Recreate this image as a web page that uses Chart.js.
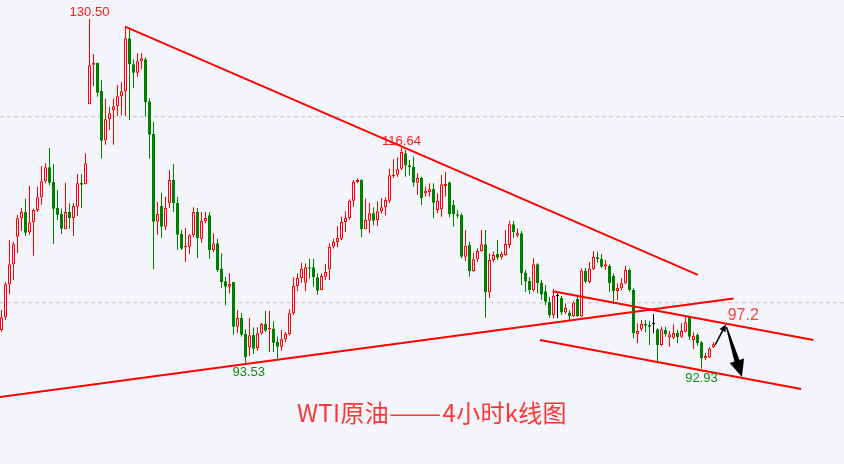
<!DOCTYPE html>
<html>
<head>
<meta charset="utf-8">
<script src="https://cdn.jsdelivr.net/npm/chart.js@4.4.1/dist/chart.umd.min.js"></script>
<style>
  html, body { margin: 0; padding: 0; background: #f4f5fa; }
  #wrap { position: relative; width: 844px; height: 464px; }
  #title { position: absolute; left: 297px; top: 396px; font: 24px "Noto Sans CJK SC", sans-serif; color: #ff3636; white-space: nowrap; line-height: 32px; letter-spacing: 0.3px; }
  #title .dash { display: inline-block; transform: scaleX(1.3); transform-origin: left center; margin-right: 13px; }
</style>
</head>
<body>
<div id="wrap">
  <canvas id="kChart" width="844" height="464"></canvas>
  <div id="title">WTI原油<span class="dash">——</span>4小时k线图</div>
</div>
<script>
// 4小时K线 (开/高/低/收)
const opens = [
  97.07, 98.44, 101.99, 104.14, 107.10, 109.08, 109.76, 107.57, 108.65, 109.97,
  111.34, 113.06, 114.56, 112.98, 110.19, 109.54, 107.90, 109.76, 109.11, 110.33,
  112.91, 112.73, 121.33, 125.59, 125.80, 122.79, 117.46, 119.72, 120.69, 121.12,
  122.19, 122.73, 128.42, 125.63, 124.73, 125.95, 126.17, 121.65, 118.14, 108.72,
  110.40, 108.18, 110.69, 113.20, 110.76, 107.39, 105.96, 106.03, 107.25, 109.76,
  106.89, 108.76, 109.40, 105.67, 106.39, 103.66, 102.31, 101.73, 102.23, 97.43,
  98.36, 96.65, 95.22, 96.57, 95.14, 96.72, 97.72, 97.15, 97.22, 95.79,
  95.28, 96.07, 96.65, 98.87, 101.80, 102.66, 102.16, 103.81, 103.81, 102.74,
  101.37, 102.80, 103.60, 106.03, 106.53, 106.89, 108.68, 109.11, 110.97, 112.98,
  113.20, 107.90, 108.82, 109.62, 108.90, 109.83, 110.26, 110.97, 113.63, 113.77,
  114.41, 116.07, 114.78, 114.63, 112.91, 113.44, 111.77, 111.91, 112.26, 109.97,
  110.05, 112.55, 112.95, 110.51, 109.51, 109.43, 104.95, 106.21, 103.42, 104.67,
  105.57, 106.29, 101.13, 104.60, 105.24, 104.89, 105.13, 106.21, 108.43, 107.21,
  107.47, 103.25, 102.34, 101.37, 104.14, 102.18, 101.23, 100.12, 98.69, 100.73,
  100.51, 98.96, 98.96, 98.58, 100.41, 98.53, 103.45, 102.23, 103.60, 104.89,
  104.71, 103.90, 103.95, 102.88, 101.27, 101.56, 102.09, 103.52, 101.37, 96.61,
  97.15, 97.72, 97.61, 97.72, 97.15, 95.46, 97.07, 96.29, 96.25, 96.75,
  96.36, 96.89, 98.50, 96.00, 96.54, 95.75, 94.03, 94.12, 95.22
];
const highs = [
  99.22, 102.24, 106.75, 106.53, 109.43, 110.19, 111.19, 112.55, 110.11, 112.48,
  114.70, 114.99, 116.63, 114.91, 112.12, 110.11, 112.91, 110.69, 110.69, 113.84,
  113.84, 116.07, 130.50, 126.74, 125.80, 123.94, 121.93, 121.07, 121.93, 123.41,
  123.73, 129.75, 129.39, 126.17, 126.81, 126.84, 126.38, 121.98, 119.46, 110.83,
  111.83, 111.40, 114.27, 114.91, 111.40, 107.82, 108.04, 107.39, 110.26, 110.19,
  109.76, 109.76, 109.76, 107.47, 106.89, 105.32, 102.80, 103.17, 102.23, 99.22,
  98.87, 97.15, 98.36, 97.36, 97.36, 97.86, 99.15, 99.15, 98.01, 96.36,
  97.07, 96.86, 99.30, 102.74, 103.17, 104.31, 104.24, 104.74, 104.74, 103.17,
  103.17, 104.17, 106.39, 106.89, 108.25, 109.25, 109.83, 111.12, 113.20, 113.34,
  113.27, 111.19, 110.76, 110.26, 110.91, 111.26, 111.34, 114.41, 115.42, 115.63,
  116.64, 116.42, 115.35, 115.70, 113.91, 113.55, 112.48, 112.84, 112.84, 111.77,
  113.73, 114.06, 113.01, 111.05, 109.97, 109.62, 107.82, 106.56, 105.38, 105.86,
  107.82, 107.82, 105.32, 105.49, 106.75, 105.49, 107.82, 108.82, 108.79, 107.99,
  107.71, 103.52, 102.77, 104.78, 104.24, 102.45, 101.91, 100.62, 101.48, 101.02,
  100.73, 99.95, 99.22, 100.19, 100.84, 103.71, 103.74, 104.38, 105.56, 105.49,
  105.24, 104.60, 104.14, 103.17, 102.09, 102.63, 103.99, 103.71, 101.56, 97.80,
  98.15, 98.15, 98.04, 98.79, 97.26, 97.43, 97.43, 96.97, 97.69, 97.07,
  97.80, 98.69, 98.61, 96.83, 96.72, 95.89, 94.60, 95.25, 95.79
];
const lows = [
  96.89, 98.15, 100.91, 102.45, 105.35, 107.71, 107.18, 107.32, 105.06, 109.76,
  110.54, 112.84, 112.63, 106.32, 108.90, 107.39, 107.90, 107.96, 107.18, 109.33,
  110.19, 112.73, 121.33, 123.30, 122.15, 115.48, 116.99, 118.57, 116.99, 120.07,
  120.15, 120.07, 119.64, 123.05, 124.30, 125.09, 120.00, 115.48, 103.60, 107.32,
  106.96, 107.82, 110.19, 109.76, 105.67, 105.67, 104.38, 105.24, 107.04, 104.81,
  106.46, 108.54, 104.74, 105.46, 103.31, 101.59, 99.73, 101.02, 96.57, 96.72,
  96.36, 93.53, 94.28, 94.50, 94.85, 96.57, 96.86, 94.71, 94.71, 93.99,
  94.85, 95.79, 96.51, 98.72, 101.23, 102.16, 101.23, 102.59, 101.73, 100.87,
  101.37, 102.45, 102.45, 105.81, 105.96, 106.75, 107.61, 108.90, 110.33, 112.84,
  107.04, 107.90, 107.47, 108.33, 108.25, 109.62, 109.40, 110.69, 113.41, 113.55,
  114.27, 113.55, 113.70, 112.48, 111.62, 110.51, 111.40, 111.40, 109.08, 109.62,
  109.25, 111.40, 109.19, 108.18, 109.08, 104.78, 104.49, 102.80, 103.34, 104.42,
  105.49, 98.40, 100.51, 104.38, 104.60, 104.67, 105.06, 105.86, 106.96, 107.02,
  101.91, 101.16, 100.94, 101.19, 101.02, 100.30, 99.76, 98.36, 98.31, 98.33,
  98.69, 98.80, 98.15, 98.47, 98.47, 98.47, 102.09, 102.09, 103.52, 104.28,
  103.77, 103.52, 101.16, 99.87, 100.30, 101.37, 101.99, 101.19, 96.18, 95.65,
  96.97, 96.83, 95.46, 96.72, 93.67, 95.39, 96.36, 95.28, 96.11, 95.65,
  96.25, 96.83, 96.00, 95.03, 95.39, 92.93, 93.85, 94.07, 95.14
];
const closes = [
  98.44, 101.99, 104.14, 106.29, 109.08, 109.76, 107.53, 108.65, 109.97, 111.34,
  113.06, 114.56, 112.91, 110.11, 109.47, 107.96, 109.76, 109.11, 110.40, 112.84,
  112.69, 114.99, 125.52, 125.80, 122.58, 117.42, 119.72, 120.36, 121.12, 122.19,
  122.73, 128.42, 125.63, 124.73, 125.95, 126.27, 121.55, 118.06, 108.72, 109.54,
  108.18, 110.19, 113.20, 110.69, 107.32, 105.81, 106.10, 107.25, 109.76, 106.96,
  108.82, 109.11, 105.67, 106.39, 103.52, 102.23, 101.73, 102.02, 97.43, 98.36,
  96.57, 94.14, 96.50, 95.07, 96.72, 97.72, 97.00, 97.29, 95.71, 95.28,
  96.07, 96.65, 98.87, 101.80, 102.66, 103.66, 103.81, 103.66, 102.74, 101.30,
  102.88, 103.31, 106.03, 106.53, 106.96, 108.68, 109.11, 110.97, 112.98, 113.20,
  107.90, 108.90, 109.62, 108.82, 109.83, 110.26, 111.05, 113.70, 113.77, 114.35,
  116.21, 114.78, 114.56, 112.91, 113.41, 111.23, 112.05, 112.20, 110.76, 110.97,
  112.73, 112.77, 109.51, 109.51, 109.36, 104.95, 106.13, 103.42, 104.67, 105.57,
  106.29, 101.13, 104.60, 105.13, 104.85, 105.24, 106.32, 108.43, 107.61, 107.47,
  103.17, 102.29, 101.37, 104.14, 102.09, 100.89, 100.12, 98.65, 100.73, 100.73,
  98.96, 99.44, 98.58, 100.03, 98.58, 103.47, 102.27, 103.68, 104.92, 104.67,
  103.88, 104.14, 102.13, 101.27, 101.59, 102.09, 103.52, 101.37, 96.72, 96.97,
  97.72, 97.54, 97.43, 97.72, 95.46, 97.15, 96.61, 96.61, 96.75, 96.32,
  96.97, 97.90, 96.36, 96.46, 95.65, 94.03, 94.28, 95.09, 95.54
];

// 虚线价位
const gridLevels = [100, 120];

// 趋势线 (K线序号, 价格)
const trendStartX = [31.9, 0.6, 138.8, 135.6];
const trendStartY = [129.67, 89.87, 101.23, 96.00];
const trendEndX = [175.1, 184.0, 204.0, 200.9];
const trendEndY = [102.99, 100.46, 96.00, 90.73];

// 高低点标注
const markText = ['130.50', '116.64', '93.53', '92.93'];
const markX = [23, 101, 62.8, 176];
const markY = [130.50, 116.64, 93.53, 92.93];
const markSide = ['top', 'top', 'bottom', 'bottom'];

// 目标位
const targetText = '97.2';
const targetX = 182.55;
const targetY = 98.15;

// 箭头 (起点 -> 终点)
const arrowFromX = [179.4, 182.25];
const arrowFromY = [95.46, 97.40];
const arrowToX = [182.1, 186.1];
const arrowToY = [97.67, 92.02];

const BG = '#f4f5fa';
const UP = '#ff0000';
const DOWN = '#008000';

const xMin = 0.625, xMax = 211.625;

function candleColor(k) {
  if (closes[k] > opens[k]) return UP;
  if (closes[k] < opens[k]) return DOWN;
  return '#000000';
}
const lineColors = closes.map((c, k) => candleColor(k));
const bodyFill = closes.map((c, k) => closes[k] > opens[k] ? BG : candleColor(k));

const datasets = [];

gridLevels.forEach(v => {
  datasets.push({
    type: 'line',
    data: [{ x: xMin, y: v }, { x: xMax, y: v }],
    borderColor: '#c4c4c8',
    borderWidth: 1,
    borderDash: [4, 3],
    pointRadius: 0,
    order: 5
  });
});

datasets.push({
  type: 'bar',
  data: highs.map((h, k) => ({ x: k + 1, y: [lows[k], h] })),
  backgroundColor: lineColors,
  borderWidth: 0,
  barThickness: 1,
  grouped: false,
  minBarLength: 1,
  inflateAmount: 0,
  order: 3
});

datasets.push({
  type: 'bar',
  data: closes.map((c, k) => ({ x: k + 1, y: [opens[k], c] })),
  backgroundColor: bodyFill,
  borderColor: lineColors,
  borderWidth: 1,
  borderSkipped: false,
  barThickness: 3,
  grouped: false,
  minBarLength: 1,
  inflateAmount: 0,
  order: 2
});

trendStartX.forEach((sx, k) => {
  datasets.push({
    type: 'line',
    data: [{ x: sx, y: trendStartY[k] }, { x: trendEndX[k], y: trendEndY[k] }],
    borderColor: '#ff0000',
    borderWidth: 2,
    pointRadius: 0,
    order: 1
  });
});

function drawArrow(ctx, x0, y0, x1, y1, w0, w1, head, hw) {
  const dx = x1 - x0, dy = y1 - y0, len = Math.hypot(dx, dy);
  const ux = dx / len, uy = dy / len, nx = -uy, ny = ux;
  const bx = x1 - ux * head, by = y1 - uy * head;
  ctx.beginPath();
  ctx.moveTo(x0 + nx * w0, y0 + ny * w0);
  ctx.lineTo(bx + nx * w1, by + ny * w1);
  ctx.lineTo(bx + nx * hw, by + ny * hw);
  ctx.lineTo(x1, y1);
  ctx.lineTo(bx - nx * hw, by - ny * hw);
  ctx.lineTo(bx - nx * w1, by - ny * w1);
  ctx.lineTo(x0 - nx * w0, y0 - ny * w0);
  ctx.closePath();
  ctx.fill();
}

const background = {
  id: 'background',
  beforeDraw(chart) {
    const ctx = chart.ctx;
    ctx.save();
    ctx.fillStyle = BG;
    ctx.fillRect(0, 0, chart.width, chart.height);
    ctx.restore();
  }
};

const overlay = {
  id: 'overlay',
  afterDatasetsDraw(chart) {
    const { ctx, scales: { x, y } } = chart;
    ctx.save();

    // 箭头
    ctx.fillStyle = '#000000';
    drawArrow(ctx,
      x.getPixelForValue(arrowFromX[0]), y.getPixelForValue(arrowFromY[0]),
      x.getPixelForValue(arrowToX[0]), y.getPixelForValue(arrowToY[0]),
      0.8, 0.8, 7, 3.5);
    drawArrow(ctx,
      x.getPixelForValue(arrowFromX[1]), y.getPixelForValue(arrowFromY[1]),
      x.getPixelForValue(arrowToX[1]), y.getPixelForValue(arrowToY[1]),
      0.6, 2.6, 17, 7.5);

    // 高低点
    ctx.font = '13px "Liberation Sans", Arial, sans-serif';
    ctx.textAlign = 'center';
    ctx.textBaseline = 'alphabetic';
    markText.forEach((t, k) => {
      const px = x.getPixelForValue(markX[k]);
      const py = y.getPixelForValue(markY[k]);
      if (markSide[k] === 'top') {
        ctx.fillStyle = '#ff1a1a';
        ctx.fillText(t, px, py - 2.5);
      } else {
        ctx.fillStyle = '#138a13';
        ctx.fillText(t, px, py + 13);
      }
    });

    // 目标位
    ctx.font = '16px "Liberation Sans", Arial, sans-serif';
    ctx.textAlign = 'left';
    ctx.fillStyle = '#ff4040';
    ctx.fillText(targetText, x.getPixelForValue(targetX), y.getPixelForValue(targetY));

    ctx.restore();
  }
};

new Chart(document.getElementById('kChart'), {
  type: 'bar',
  data: { datasets },
  options: {
    responsive: false,
    animation: false,
    devicePixelRatio: 1,
    layout: { padding: 0 },
    plugins: { legend: { display: false }, tooltip: { enabled: false } },
    scales: {
      x: { type: 'linear', display: false, min: xMin, max: xMax, offset: false },
      y: { type: 'linear', display: false, min: 82.67, max: 132.54 }
    }
  },
  plugins: [background, overlay]
});
</script>
</body>
</html>
